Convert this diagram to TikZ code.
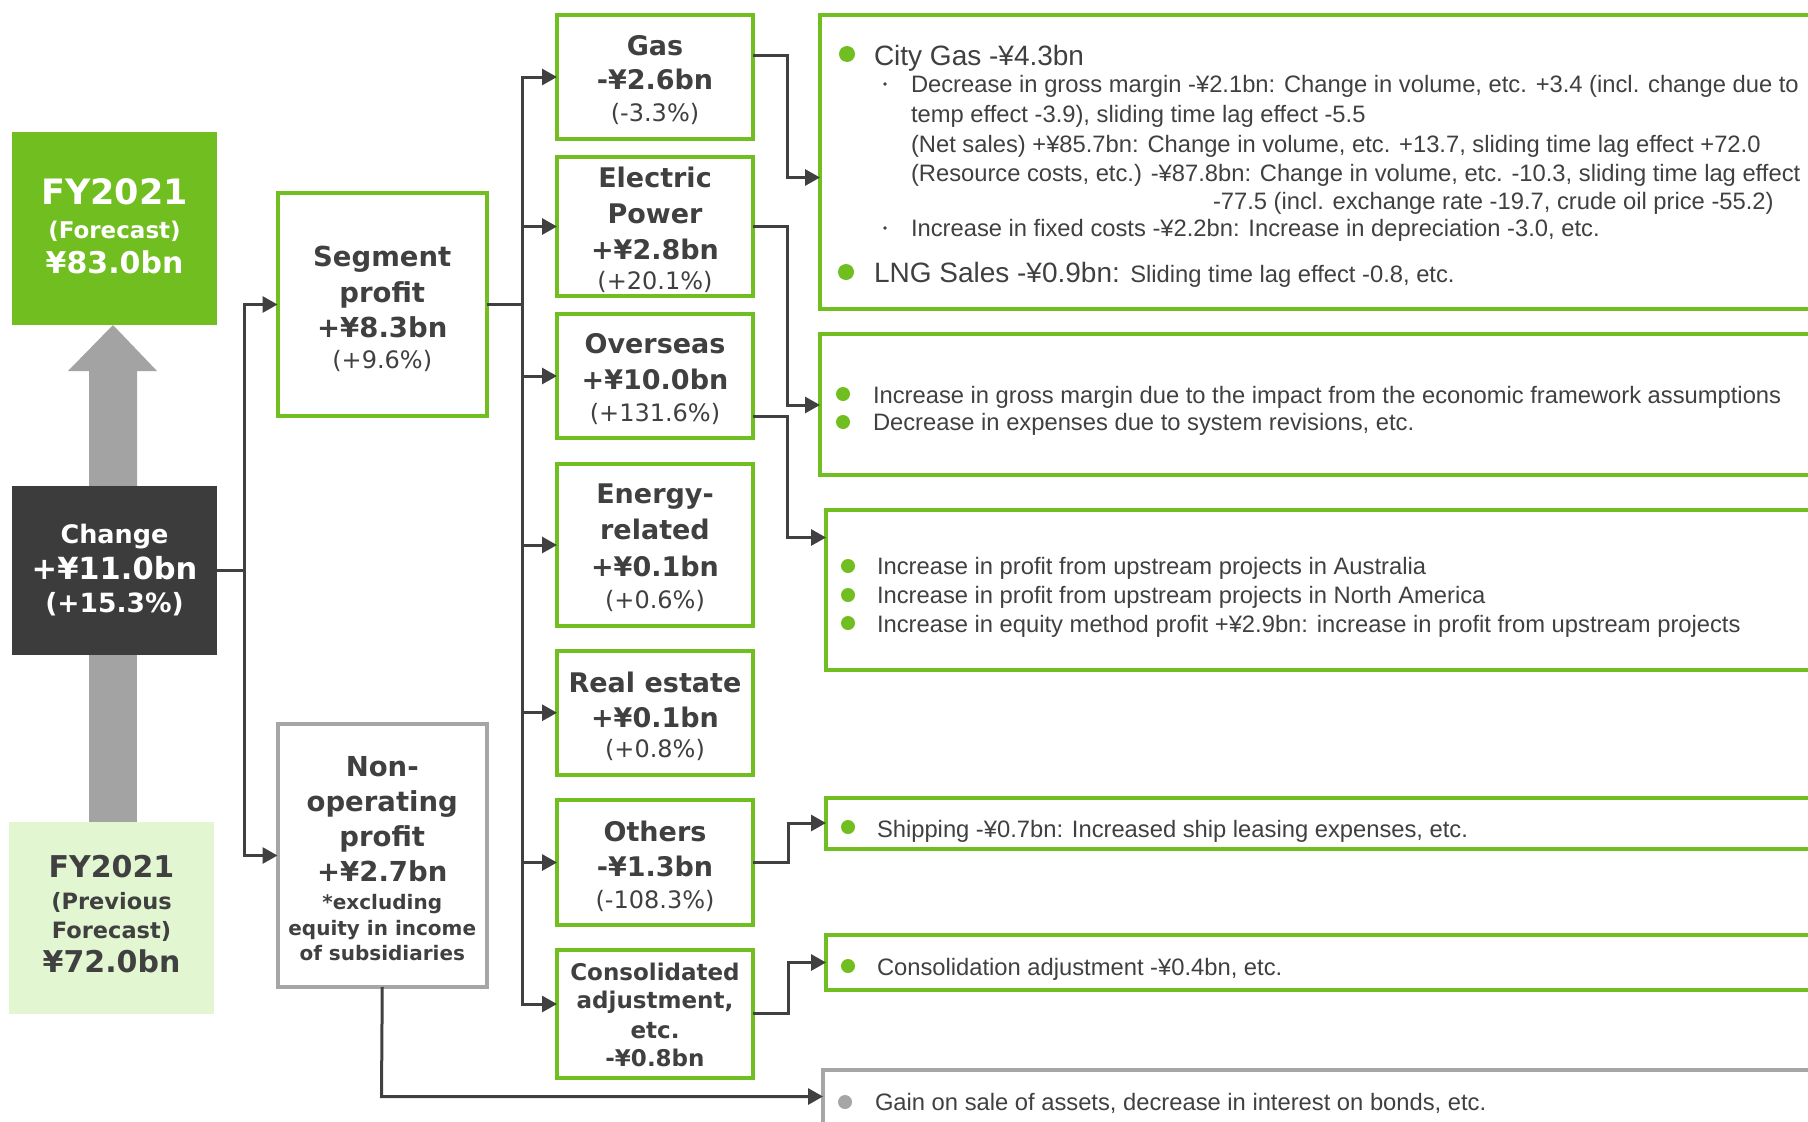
\documentclass[tikz,border=0pt]{standalone}
\usepackage{fontspec}
\setmainfont{Liberation Sans}
\newfontfamily\vfont{DejaVu Sans}
\usetikzlibrary{arrows.meta}
\definecolor{gr}{RGB}{112,190,31}
\definecolor{dk}{RGB}{60,60,60}
\definecolor{lg}{RGB}{226,246,210}
\definecolor{ga}{RGB}{163,163,163}
\definecolor{txt}{RGB}{64,64,64}
\definecolor{gb}{RGB}{166,166,166}
\newcommand\myfs[1]{\fontsize{#1}{#1}\selectfont}
\begin{document}
\begin{tikzpicture}[x=1pt,y=-1pt,
  gbox/.style={draw=gr, line width=4pt, inner sep=0, outer sep=0, fill=white},
  nbox/.style={draw=gb, line width=4pt, inner sep=0, outer sep=0, fill=white},
  dbox/.style={draw=gr, line width=3.5pt, inner sep=0, outer sep=0},
  fbox/.style={inner sep=0, outer sep=0, draw=none},
  conn/.style={draw=txt, line width=3pt, -{Triangle[length=15pt,width=16pt]}},
  plain/.style={draw=txt, line width=3pt},
  bt/.style={anchor=base, inner sep=0, outer sep=0, text=txt, font=\vfont\bfseries},
  pt/.style={anchor=base, inner sep=0, outer sep=0, text=txt, font=\vfont},
  wt/.style={anchor=base, inner sep=0, outer sep=0, text=white, font=\vfont\bfseries},
  dt/.style={anchor=base west, inner sep=0, outer sep=0, text=txt, font={\fontsize{23.75}{28}\selectfont}},
  ht/.style={anchor=base west, inner sep=0, outer sep=0, text=txt, font={\fontsize{28}{32}\selectfont}}
]
\useasboundingbox (0,0) rectangle (1808,1122);
\clip (0,0) rectangle (1808,1122);
\fill[white] (0,0) rectangle (1808,1122);

% gray arrow from previous forecast to forecast
\fill[ga] (89,486) -- (89,371) -- (68,371) -- (113,325) -- (157,371) -- (137,371) -- (137,486) -- cycle;
\fill[ga] (89,655) rectangle (137,822);

% left boxes
\node[fbox, fill=gr, minimum width=205, minimum height=193] (fc) at (114.5,228.5) {};
\node[fbox, fill=dk, minimum width=205, minimum height=169] (chg) at (114.5,570.5) {};
\node[fbox, fill=lg, minimum width=205, minimum height=192] (prev) at (111.5,918) {};

% second column
\node[gbox, minimum width=209.5, minimum height=223] (seg) at (382.25,304.5) {};
\node[nbox, minimum width=209.5, minimum height=263] (nop) at (382.25,855.5) {};

% third column
\node[gbox, minimum width=196, minimum height=124] (gas) at (655,77) {};
\node[gbox, minimum width=196, minimum height=139] (ele) at (655,226.5) {};
\node[gbox, minimum width=196, minimum height=124] (ovs) at (655,376) {};
\node[gbox, minimum width=196, minimum height=162] (ene) at (655,545) {};
\node[gbox, minimum width=196, minimum height=124.5] (rea) at (655,712.75) {};
\node[gbox, minimum width=196, minimum height=125] (oth) at (655,862.5) {};
\node[gbox, minimum width=196, minimum height=128] (con) at (655,1014) {};

% detail boxes
\node[dbox, minimum width=1010, minimum height=294] (d1) at (1325,162) {};
\node[dbox, minimum width=1010, minimum height=141] (d2) at (1325,404.5) {};
\node[dbox, minimum width=1004, minimum height=160] (d3) at (1328,590) {};
\node[dbox, minimum width=1004, minimum height=51] (d4) at (1328,823.5) {};
\node[dbox, minimum width=1004, minimum height=55] (d5) at (1328,962.5) {};
\node[dbox, draw=gb, minimum width=1007, minimum height=80] (d6) at (1326.5,1110) {};

% connectors
\coordinate (j1) at (244,570);
\draw[plain] (chg.east |- j1) -- (j1);
\draw[conn] (j1) |- (seg.west);
\draw[conn] (j1) |- (nop.west);
\coordinate (bus) at (522,304.5);
\draw[plain] (seg.east) -- (bus);
\draw[conn] (bus) |- (gas.west);
\draw[conn] (bus) |- (ele.west);
\draw[conn] (bus) |- (ovs.west);
\draw[conn] (bus) |- (ene.west);
\draw[conn] (bus) |- (rea.west);
\draw[conn] (bus) |- (oth.west);
\draw[conn] (bus) |- (con.west |- 0,1004);

\draw[conn] (gas.east |- 0,55) -- (787,55) -- (787,177.5) -- (d1.west |- 0,177.5);
\draw[conn] (ele.east |- 0,226) -- (787,226) -- (787,405) -- (d2.west |- 0,405);
\draw[conn] (ovs.east |- 0,416) -- (787,416) -- (787,537.5) -- (d3.west |- 0,537.5);
\draw[conn] (oth.east |- 0,862) -- (788,862) -- (788,823) -- (d4.west |- 0,823);
\draw[conn] (con.east |- 0,1013) -- (788,1013) -- (788,962.5) -- (d5.west |- 0,962.5);
\draw[conn] (nop.south) -- (381.5,1096.5) -- (d6.west |- 0,1096.5);

% left box texts
\node[wt] (fc1) at (114.5,204) {\myfs{35}FY2021};
\node[wt] (fc2) at (114.5,238) {\myfs{23}(Forecast)};
\node[wt] (fc3) at (114.5,273) {\myfs{30}¥83.0bn};
\node[wt] (ch1) at (114.5,543) {\myfs{25.5}Change};
\node[wt] (ch2) at (114.5,579) {\myfs{30.5}+¥11.0bn};
\node[wt] (ch3) at (114.5,612) {\myfs{26.5}(+15.3\%)};
\node[bt] (pv1) at (111.5,877) {\myfs{30}FY2021};
\node[bt] (pv2) at (111.5,909) {\myfs{22.5}(Previous};
\node[bt] (pv3) at (111.5,938) {\myfs{22.5}Forecast)};
\node[bt] (pv4) at (111.5,972) {\myfs{30}¥72.0bn};

% segment / non-operating texts
\node[bt] (sg1) at (382.25,266) {\myfs{27.5}Segment};
\node[bt] (sg2) at (382.25,302) {\myfs{27.5}profit};
\node[bt] (sg3) at (382.25,337) {\myfs{27.5}+¥8.3bn};
\node[pt] (sg4) at (382.25,368) {\myfs{24}(+9.6\%)};
\node[bt] (np1) at (382.25,776) {\myfs{27.5}Non-};
\node[bt] (np2) at (382.25,811) {\myfs{27.5}operating};
\node[bt] (np3) at (382.25,846) {\myfs{27.5}profit};
\node[bt] (np4) at (382.25,881) {\myfs{27.5}+¥2.7bn};
\node[bt] (np5) at (382.25,909) {\myfs{20}*excluding};
\node[bt] (np6) at (382.25,935) {\myfs{20}equity in income};
\node[bt] (np7) at (382.25,960) {\myfs{20}of subsidiaries};

% segment box texts
\node[bt] (g1) at (655,55) {\myfs{27}Gas};
\node[bt] (g2) at (655,89) {\myfs{27}-¥2.6bn};
\node[pt] (g3) at (655,121) {\myfs{24}(-3.3\%)};
\node[bt] (e1) at (655,187.5) {\myfs{27}Electric};
\node[bt] (e2) at (655,223) {\myfs{27}Power};
\node[bt] (e3) at (655,259) {\myfs{27}+¥2.8bn};
\node[pt] (e4) at (655,289) {\myfs{24}(+20.1\%)};
\node[bt] (o1) at (655,353.5) {\myfs{27}Overseas};
\node[bt] (o2) at (655,389) {\myfs{27}+¥10.0bn};
\node[pt] (o3) at (655,421) {\myfs{24}(+131.6\%)};
\node[bt] (n1) at (655,503.5) {\myfs{27}Energy-};
\node[bt] (n2) at (655,539) {\myfs{27}related};
\node[bt] (n3) at (655,576) {\myfs{27}+¥0.1bn};
\node[pt] (n4) at (655,608) {\myfs{24}(+0.6\%)};
\node[bt] (r1) at (655,692) {\myfs{27}Real estate};
\node[bt] (r2) at (655,727) {\myfs{27}+¥0.1bn};
\node[pt] (r3) at (655,757) {\myfs{24}(+0.8\%)};
\node[bt] (h1) at (655,841) {\myfs{27}Others};
\node[bt] (h2) at (655,876) {\myfs{27}-¥1.3bn};
\node[pt] (h3) at (655,908) {\myfs{24}(-108.3\%)};
\node[bt] (c1) at (655,980) {\myfs{23}Consolidated};
\node[bt] (c2) at (655,1008) {\myfs{23}adjustment,};
\node[bt] (c3) at (655,1038) {\myfs{23}etc.};
\node[bt] (c4) at (655,1066) {\myfs{23}-¥0.8bn};

% detail 1
\fill[gr] (847,54) circle (8);
\node[ht] (a1) at (874,65) {City Gas -¥4.3bn};
\fill[txt] (885,84) circle (1.8);
\node[dt] (a2) at (911,92) {Decrease in gross margin -¥2.1bn: Change in volume, etc. +3.4 (incl. change due to};
\node[dt] (a3) at (911,122) {temp effect -3.9), sliding time lag effect -5.5};
\node[dt] (a4) at (911,152) {(Net sales) +¥85.7bn: Change in volume, etc. +13.7, sliding time lag effect +72.0};
\node[dt] (a5) at (911,181) {(Resource costs, etc.) -¥87.8bn: Change in volume, etc. -10.3, sliding time lag effect};
\node[dt] (a6) at (1213,209.5) {-77.5 (incl. exchange rate -19.7, crude oil price -55.2)};
\fill[txt] (885,228) circle (1.8);
\node[dt] (a7) at (911,236) {Increase in fixed costs -¥2.2bn: Increase in depreciation -3.0, etc.};
\fill[gr] (846,272) circle (8);
\node[ht] (a8) at (874,282) {LNG Sales -¥0.9bn: {\fontsize{23.75}{28}\selectfont Sliding time lag effect -0.8, etc.}};

% detail 2
\fill[gr] (843,394) circle (7);
\node[dt] (b1) at (873,403) {Increase in gross margin due to the impact from the economic framework assumptions};
\fill[gr] (843,422) circle (7);
\node[dt] (b2) at (873,430) {Decrease in expenses due to system revisions, etc.};

% detail 3
\fill[gr] (848,566) circle (7);
\node[dt] (k1) at (877,574) {Increase in profit from upstream projects in Australia};
\fill[gr] (848,595) circle (7);
\node[dt] (k2) at (877,603) {Increase in profit from upstream projects in North America};
\fill[gr] (848,623) circle (7);
\node[dt] (k3) at (877,632) {Increase in equity method profit +¥2.9bn: increase in profit from upstream projects};

% detail 4, 5, 6
\fill[gr] (848,827) circle (7);
\node[dt] (s1) at (877,837) {Shipping -¥0.7bn: Increased ship leasing expenses, etc.};
\fill[gr] (848,966) circle (7);
\node[dt] (s2) at (877,975) {Consolidation adjustment -¥0.4bn, etc.};
\fill[gb] (845,1102) circle (7);
\node[dt] (s3) at (875,1110) {Gain on sale of assets, decrease in interest on bonds, etc.};
\end{tikzpicture}
\end{document}
